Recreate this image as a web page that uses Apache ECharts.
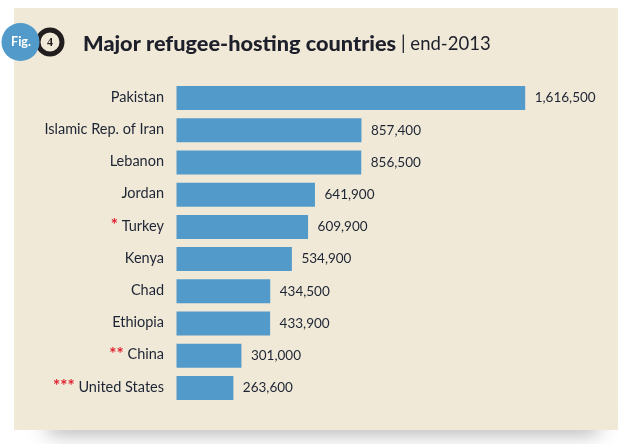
<!DOCTYPE html>
<html><head><meta charset="utf-8">
<style>html,body{margin:0;padding:0;background:#fff}#c{width:631px;height:444px}</style>
<script src="https://cdn.jsdelivr.net/npm/echarts@6/dist/echarts.min.js"></script>
</head><body><div id="c"></div>
<script>
const categories = ["Pakistan","Islamic Rep. of Iran","Lebanon","Jordan","Turkey","Kenya","Chad","Ethiopia","China","United States"];
const stars = ["","","","","*","","","","**","***"];
const values = [1616500,857400,856500,641900,609900,534900,434500,433900,301000,263600];
const titleMain = "Major refugee-hosting countries";
const titleSub = "| end-2013";
const font = "Lato";
const chart = echarts.init(document.getElementById('c'), null, {renderer:'canvas'});
chart.setOption({
  animation:false,
  backgroundColor:'#fff',
  textStyle:{fontFamily:font},
  grid:{left:176.5,top:82,width:348.7,height:322,containLabel:false},
  xAxis:{type:'value',min:0,max:1616500,show:false},
  yAxis:{type:'category',inverse:true,data:categories.map((c,i)=>stars[i]?stars[i]+'|'+c:c),
    axisLine:{show:false},axisTick:{show:false},
    axisLabel:{margin:12.5,color:'#1d2433',fontSize:14.5,fontFamily:font,padding:[0,0,2,0],
      formatter:v=>{const p=v.split('|');return p.length>1?'{s|'+p[0]+'} '+p[1]:v;},
      rich:{s:{color:'#e0202f',fontSize:17,fontWeight:'bold',fontFamily:font}}}},
  series:[{type:'bar',data:values,barWidth:24,itemStyle:{color:'#529aca'},z:5,
    label:{show:true,position:'right',distance:9.5,color:'#1d2433',fontSize:13.5,fontFamily:font,
      formatter:p=>p.value.toLocaleString('en-US')}}],
  graphic:[
    {type:'rect',z:-3,silent:true,shape:{x:48,y:420,width:550,height:8},
      style:{fill:'#999',shadowBlur:20,shadowColor:'rgba(70,70,70,0.85)',shadowOffsetY:2}},
    {type:'rect',z:-2,silent:true,shape:{x:14,y:8,width:604,height:422},style:{fill:'#f0e9d8'}},
    {type:'ring',z:1,silent:true,shape:{cx:50,cy:42,r:14.5,r0:9.5},style:{fill:'#221e1f'}},
    {type:'text',z:2,silent:true,style:{x:50,y:43,text:'4',fill:'#221e1f',font:'bold 12px "Liberation Serif"',align:'center',verticalAlign:'middle'}},
    {type:'circle',z:3,silent:true,shape:{cx:20.5,cy:42,r:19},style:{fill:'#529aca'}},
    {type:'text',z:4,silent:true,style:{x:21,y:42,text:'Fig.',fill:'#fff',font:'bold 12.5px Lato',align:'center',verticalAlign:'middle'}},
    {type:'text',z:4,silent:true,style:{x:83,y:44,text:titleMain,fill:'#1d1f2a',font:'900 21.7px Lato',verticalAlign:'middle'}},
    {type:'text',z:4,silent:true,style:{x:401,y:44,text:titleSub,fill:'#1d1f2a',font:'18.5px Lato',verticalAlign:'middle'}}
  ]
});
</script></body></html>
